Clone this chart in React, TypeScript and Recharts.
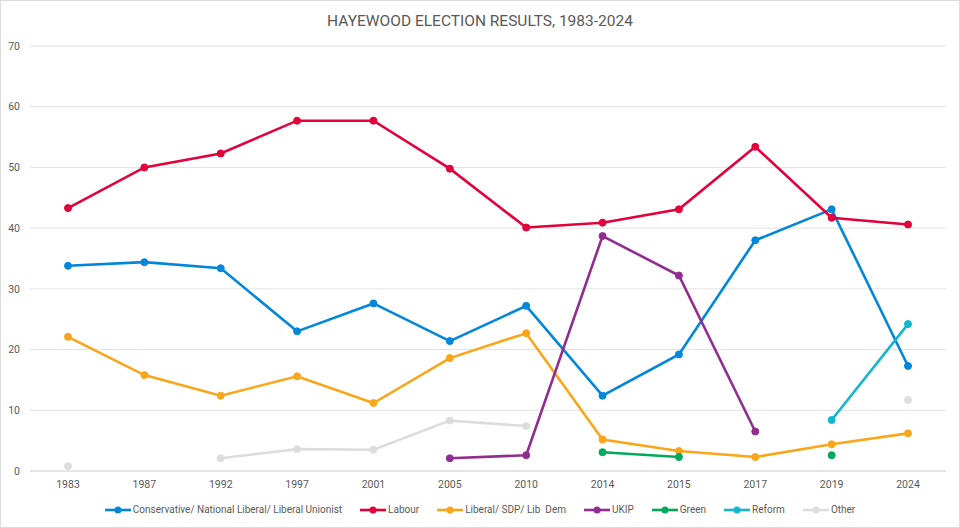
import { CartesianGrid, Line, LineChart, XAxis, YAxis } from 'recharts';

const years = ['1983', '1987', '1992', '1997', '2001', '2005', '2010', '2014', '2015', '2017', '2019', '2024'];

const conservative = [33.8, 34.4, 33.4, 23.0, 27.6, 21.4, 27.2, 12.4, 19.2, 38.0, 43.1, 17.3];
const labour = [43.3, 50.0, 52.3, 57.7, 57.7, 49.8, 40.1, 40.9, 43.1, 53.4, 41.7, 40.6];
const libDem = [22.1, 15.8, 12.4, 15.6, 11.2, 18.6, 22.7, 5.2, 3.3, 2.3, 4.4, 6.2];
const ukip = [null, null, null, null, null, 2.1, 2.6, 38.7, 32.2, 6.5, null, null];
const green = [null, null, null, null, null, null, null, 3.1, 2.3, null, 2.6, null];
const reform = [null, null, null, null, null, null, null, null, null, null, 8.4, 24.2];
const other = [0.8, null, 2.1, 3.6, 3.5, 8.3, 7.4, null, null, null, null, 11.7];

const yTicks = [0, 10, 20, 30, 40, 50, 60, 70];

const series = [
  { key: 'con', name: 'Conservative/ National Liberal/ Liberal Unionist', color: '#0087DC', values: conservative },
  { key: 'lab', name: 'Labour', color: '#E4003B', values: labour },
  { key: 'lib', name: 'Liberal/ SDP/ Lib  Dem', color: '#FAA61A', values: libDem },
  { key: 'ukip', name: 'UKIP', color: '#912D8E', values: ukip },
  { key: 'green', name: 'Green', color: '#02A95B', values: green },
  { key: 'reform', name: 'Reform', color: '#12B6CF', values: reform },
  { key: 'other', name: 'Other', color: '#DDDDDD', values: other },
];

const data = years.map((year, i) => {
  const row: Record<string, string | number | null> = { year };
  series.forEach((s) => {
    row[s.key] = s.values[i];
  });
  return row;
});

const FONT = 'Roboto, "Noto Sans", sans-serif';
const TEXT = '#595959';

export default function App() {
  return (
    <div
      style={{
        position: 'relative',
        width: 960,
        height: 528,
        border: '1px solid #dcdcdc',
        boxSizing: 'border-box',
        background: '#fff',
        fontFamily: FONT,
        overflow: 'hidden',
      }}
    >
      <style>{'body{margin:0}'}</style>
      <div
        style={{
          position: 'absolute',
          top: 11,
          left: 0,
          width: 958,
          textAlign: 'center',
          fontSize: 15.5,
          color: TEXT,
        }}
      >
        HAYEWOOD ELECTION RESULTS, 1983-2024
      </div>
      <div style={{ position: 'absolute', left: -1, top: -1 }}>
        <LineChart width={960} height={528} data={data} margin={{ top: 46, right: 14, bottom: 27, left: 0 }}>
          <CartesianGrid stroke="#e3e3e3" vertical={false} />
          <XAxis
            dataKey="year"
            tickLine={false}
            axisLine={{ stroke: '#d9d9d9' }}
            tickSize={0}
            tickMargin={10}
            padding={{ left: 38, right: 38 }}
            tick={{ fill: TEXT, fontSize: 10.5, fontFamily: FONT }}
            interval={0}
          />
          <YAxis
            width={30}
            domain={[0, 70]}
            ticks={yTicks}
            tickLine={false}
            axisLine={false}
            tickSize={0}
            tickMargin={10}
            tick={{ fill: TEXT, fontSize: 10.5, fontFamily: FONT }}
          />
          {series.map((s) => (
            <Line
              key={s.key}
              dataKey={s.key}
              name={s.name}
              stroke={s.color}
              strokeWidth={2.6}
              dot={{ r: 3.5, fill: s.color, stroke: s.color, strokeWidth: 1 }}
              activeDot={false}
              isAnimationActive={false}
            />
          ))}
        </LineChart>
      </div>
      <div
        style={{
          position: 'absolute',
          top: 501,
          left: 0,
          width: 958,
          display: 'flex',
          justifyContent: 'center',
          gap: 18,
          fontSize: 10,
          color: TEXT,
        }}
      >
        {series.map((s) => (
          <div key={s.key} style={{ display: 'flex', alignItems: 'center', lineHeight: '16px' }}>
            <svg width={26} height={10} style={{ marginRight: 2 }}>
              <line x1={0} y1={5} x2={26} y2={5} stroke={s.color} strokeWidth={2.6} />
              <circle cx={13} cy={5} r={3.5} fill={s.color} />
            </svg>
            <span style={{ whiteSpace: 'pre' }}>{s.name}</span>
          </div>
        ))}
      </div>
    </div>
  );
}
